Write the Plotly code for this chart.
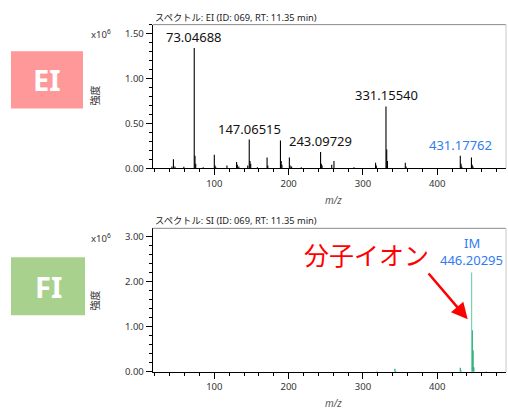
import plotly.graph_objects as go

W, H = 508, 412

# ---- data ----
ei_mz = [43, 45, 47, 59, 73, 74, 75, 85, 100, 101, 102, 117, 130, 131, 133,
         145, 147, 148, 149, 158, 171, 172, 189, 190, 191, 201, 202, 204, 217,
         243, 244, 245, 258, 261, 288, 317, 318, 331, 332, 333, 357, 358,
         431, 432, 433, 446, 447, 448]
ei_int = [0.02, 0.10, 0.02, 0.015, 1.34, 0.14, 0.05, 0.01, 0.15, 0.03, 0.01, 0.03, 0.07, 0.04, 0.02,
          0.03, 0.32, 0.08, 0.05, 0.01, 0.12, 0.03, 0.31, 0.08, 0.04, 0.12, 0.03, 0.02, 0.01,
          0.18, 0.05, 0.03, 0.04, 0.08, 0.01, 0.06, 0.03, 0.69, 0.21, 0.08, 0.06, 0.02,
          0.14, 0.05, 0.02, 0.12, 0.04, 0.02]
ei_labels_mz = [73.04688, 147.06515, 243.09729, 331.15540]
ei_labels_int = [1.34, 0.32, 0.18, 0.69]
ei_blue_mz = 431.17762
ei_blue_int = 0.14

si_mz = [319, 343, 344, 431, 432, 447.2, 448.2, 449.2, 466]
si_int = [0.01, 0.07, 0.02, 0.09, 0.03, 0.92, 0.48, 0.10, 0.01]
si_main_mz = 446.20295
si_main_int = 2.20

SCALE = 1e6

def px(x):
    return x / W

def py(y):
    return 1 - y / H

def sticks(mz, inten):
    xs, ys = [], []
    for m, v in zip(mz, inten):
        xs += [m, m, None]
        ys += [0, v * SCALE, None]
    return xs, ys

FONT = "Noto Sans, Noto Sans CJK JP, sans-serif"
fig = go.Figure()

x1, y1 = sticks(ei_mz, ei_int)
fig.add_trace(go.Scatter(x=x1, y=y1, mode="lines", line=dict(color="black", width=1.1),
                         xaxis="x", yaxis="y", showlegend=False, hoverinfo="skip"))
x2, y2 = sticks(si_mz, si_int)
fig.add_trace(go.Scatter(x=x2, y=y2, mode="lines", line=dict(color="#1fa874", width=1.2),
                         xaxis="x2", yaxis="y2", showlegend=False, hoverinfo="skip"))
x3, y3 = sticks([si_main_mz], [si_main_int])
fig.add_trace(go.Scatter(x=x3, y=y3, mode="lines", line=dict(color="#79d3b0", width=1.2),
                         xaxis="x2", yaxis="y2", showlegend=False, hoverinfo="skip"))

XDOM = [px(152.7), px(506)]
XR = [17.1, 492.5]
common_x = dict(range=XR, domain=XDOM, showline=True, linecolor="black", linewidth=1,
                ticks="outside", ticklen=6, tickcolor="black", tick0=0, dtick=100,
                tickfont=dict(size=9.5, color="#333", family=FONT), showgrid=False,
                zeroline=False, fixedrange=True,
                minor=dict(dtick=20, tick0=0, ticks="outside", ticklen=3, tickcolor="black", showgrid=False))
common_y = dict(showline=True, linecolor="black", linewidth=1, ticks="outside", ticklen=6,
                tickcolor="black", tickfont=dict(size=9.5, color="#333", family=FONT),
                showgrid=False, zeroline=False, fixedrange=True)

fig.update_layout(
    width=W, height=H, margin=dict(l=0, r=0, t=0, b=0),
    paper_bgcolor="white", plot_bgcolor="white",
    font=dict(family=FONT),
    xaxis=dict(**common_x, anchor="y"),
    yaxis=dict(**common_y, anchor="x", domain=[py(170.7), py(25)], range=[0, 1.602e6],
               tickvals=[0, 0.5e6, 1.0e6, 1.5e6], ticktext=["0.00", "0.50", "1.00", "1.50"],
               minor=dict(dtick=0.1e6, tick0=0, ticks="outside", ticklen=3, tickcolor="black", showgrid=False)),
    xaxis2=dict(**common_x, anchor="y2"),
    yaxis2=dict(**common_y, anchor="x2", domain=[py(377.3), py(231.7)], range=[0, 3.18e6],
                tickvals=[0, 1e6, 2e6, 3e6], ticktext=["0.00", "1.00", "2.00", "3.00"],
                minor=dict(dtick=0.2e6, tick0=0, ticks="outside", ticklen=3, tickcolor="black", showgrid=False)),
)

shapes = []
# grey frame top/right
for yr, xr in [("y domain", "x domain"), ("y2 domain", "x2 domain")]:
    shapes.append(dict(type="line", xref=xr, yref=yr, x0=0, x1=1, y0=1, y1=1,
                       line=dict(color="#8a8a8a", width=1)))
    shapes.append(dict(type="line", xref=xr, yref=yr, x0=1, x1=1, y0=0, y1=1,
                       line=dict(color="#c8c8c8", width=1)))
# EI / FI boxes
shapes.append(dict(type="rect", xref="paper", yref="paper", x0=px(11), x1=px(83), y0=py(110), y1=py(52),
                   fillcolor="#ff9999", line=dict(width=0), layer="below"))
shapes.append(dict(type="rect", xref="paper", yref="paper", x0=px(11), x1=px(85), y0=py(320), y1=py(261),
                   fillcolor="#a9d18e", line=dict(width=0), layer="below"))
fig.update_layout(shapes=shapes)

ann = []
def A(**k):
    k.setdefault("showarrow", False)
    k.setdefault("xanchor", "center")
    k.setdefault("yanchor", "middle")
    ann.append(k)

# box labels
A(x=px(47), y=py(81), xref="paper", yref="paper", text="<b>EI</b>",
  font=dict(size=29, color="white", family=FONT))
A(x=px(48), y=py(290.5), xref="paper", yref="paper", text="<b>FI</b>",
  font=dict(size=29, color="white", family=FONT))

# titles
A(x=px(152.7), y=py(17.3), xref="paper", yref="paper", xanchor="left",
  text="スペクトル: EI (ID: 069, RT: 11.35 min)", font=dict(size=9.3, color="#222", family=FONT))
A(x=px(152.7), y=py(224), xref="paper", yref="paper", xanchor="left",
  text="スペクトル: SI (ID: 069, RT: 11.35 min)", font=dict(size=9.3, color="#222", family=FONT))

# exponent labels
A(x=px(101), y=py(35), xref="paper", yref="paper", text="x10<sup>6</sup>",
  font=dict(size=9.5, color="#333", family=FONT))
A(x=px(101), y=py(242), xref="paper", yref="paper", text="x10<sup>6</sup>",
  font=dict(size=9.5, color="#333", family=FONT))

# y titles
A(x=px(95), y=py(97), xref="paper", yref="paper", text="強度", textangle=-90,
  font=dict(size=10, color="#333", family=FONT))
A(x=px(95), y=py(305), xref="paper", yref="paper", text="強度", textangle=-90,
  font=dict(size=10, color="#333", family=FONT))

# m/z
A(x=px(333), y=py(203), xref="paper", yref="paper", text="<i>m/z</i>",
  font=dict(size=10, color="#555", family=FONT))
A(x=px(333), y=py(409), xref="paper", yref="paper", text="<i>m/z</i>",
  font=dict(size=10, color="#555", family=FONT))

# peak labels EI
for m, v in zip(ei_labels_mz, ei_labels_int):
    A(x=m, y=v * SCALE, xref="x", yref="y", text=f"{m:.5f}", yshift=11,
      font=dict(size=13, color="#111", family=FONT))
A(x=ei_blue_mz, y=ei_blue_int * SCALE, xref="x", yref="y", text=f"{ei_blue_mz:.5f}",
  yshift=11, font=dict(size=13, color="#2f7cf0", family=FONT))

# SI labels
A(x=si_main_mz, y=si_main_int * SCALE, xref="x2", yref="y2", text=f"{si_main_mz:.5f}",
  yshift=12.5, font=dict(size=13, color="#2f7cf0", family=FONT))
A(x=si_main_mz, y=si_main_int * SCALE, xref="x2", yref="y2", text="IM",
  yshift=30, font=dict(size=13, color="#2f7cf0", family=FONT))

# red annotation
A(x=px(366.5), y=py(257.5), xref="paper", yref="paper", text="分子イオン",
  font=dict(size=25, color="#ff0000", family="Noto Sans CJK JP, sans-serif"))
ann.append(dict(x=px(467.7), y=py(324), xref="paper", yref="paper",
                ax=-40.4, ay=-47.3, axref="pixel", ayref="pixel",
                showarrow=True, arrowhead=2, arrowsize=1.3, arrowwidth=2.5,
                arrowcolor="#ff0000", text=""))

fig.update_layout(annotations=ann)
fig.write_html("out.html", config={"displayModeBar": False, "staticPlot": True},
               post_script="document.body.style.margin='0';document.body.style.padding='0';")
